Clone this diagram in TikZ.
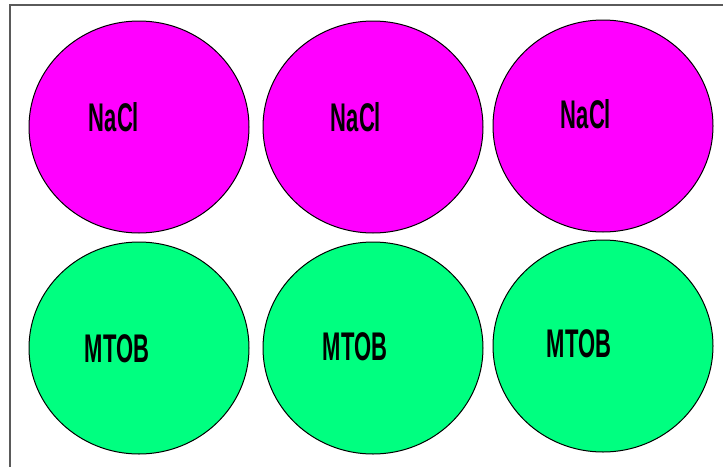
\documentclass[tikz,border=0pt]{standalone}
\usepackage{fontspec}
\setmainfont{Liberation Sans}
\usetikzlibrary{shapes.geometric}
\definecolor{wellmag}{RGB}{255,0,255}
\definecolor{wellgreen}{RGB}{0,255,128}
\definecolor{framegray}{RGB}{90,90,90}
\tikzset{
  well/.style={ellipse, draw=black, line width=1pt, minimum width=220pt, minimum height=212pt, inner sep=0pt},
  nacl/.style={well, fill=wellmag},
  mtob/.style={well, fill=wellgreen},
  lbl/.style={font=\bfseries\fontsize{40}{40}\selectfont, xscale=0.55, transform shape, inner sep=0pt, text=black}
}
\begin{document}
\begin{tikzpicture}[x=1pt,y=-1pt]
\useasboundingbox (0,0) rectangle (723,466);
\fill[white] (0,0) rectangle (723,466);
\draw[framegray, line width=2pt] (10,480) -- (10,5) -- (740,5);
\node[nacl] (w1) at (139,127) {};
\node[nacl] (w2) at (373,127) {};
\node[nacl] (w3) at (603,126) {};
\node[mtob] (w4) at (139,348) {};
\node[mtob] (w5) at (373,348) {};
\node[mtob] (w6) at (603,346) {};
\node[lbl] (t1) at (114,117) {NaCl};
\node[lbl] (t2) at (356,117) {NaCl};
\node[lbl] (t3) at (586,114) {NaCl};
\node[lbl] (t4) at (117,349) {MTOB};
\node[lbl] (t5) at (355,347) {MTOB};
\node[lbl] (t6) at (579,344) {MTOB};
\end{tikzpicture}
\end{document}
